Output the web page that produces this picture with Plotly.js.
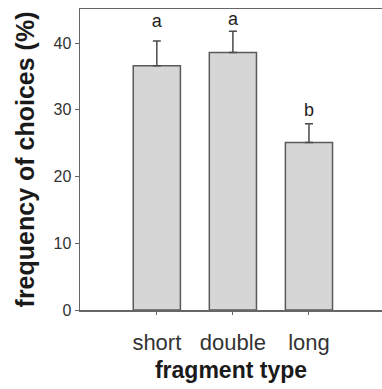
<!DOCTYPE html>
<html>
<head>
<meta charset="utf-8">
<script src="https://cdn.plot.ly/plotly-3.0.1.min.js"></script>
<style>html,body{margin:0;padding:0;background:#fff;}#chart{width:382px;height:389px;}</style>
</head>
<body>
<div id="chart"></div>
<script>
const categories = ['short', 'double', 'long'];
const frequency = [36.6, 38.6, 25.1];
const errorUpper = [3.7, 3.15, 2.8];
const groupLetters = ['a', 'a', 'b'];
const letterY = [43.1, 43.4, 29.8];
const yTicks = [0, 10, 20, 30, 40];

const xIdx = categories.map((c, i) => i);

const bars = {
  type: 'bar',
  x: xIdx,
  y: frequency,
  width: 0.62,
  marker: {color: '#d6d6d6', line: {color: '#5a5a5a', width: 1.5}},
  error_y: {type: 'data', symmetric: false, array: errorUpper, arrayminus: errorUpper.map(() => 0),
            color: '#4a4a4a', thickness: 1.5, width: 4},
  hoverinfo: 'none'
};
const letters = {
  type: 'scatter',
  mode: 'text',
  x: xIdx,
  y: letterY,
  text: groupLetters,
  textposition: 'middle center',
  textfont: {family: 'Liberation Sans, Arial, sans-serif', size: 18, color: '#222'},
  hoverinfo: 'none'
};

const layout = {
  width: 382, height: 389,
  margin: {l: 80, r: 0, t: 9, b: 79},
  showlegend: false,
  plot_bgcolor: '#fff', paper_bgcolor: '#fff',
  font: {family: 'Liberation Sans, Arial, sans-serif', color: '#333'},
  xaxis: {
    range: [-1.01, 2.96],
    tickvals: xIdx, ticktext: categories,
    ticks: 'outside', ticklen: 3, tickcolor: '#666', tickwidth: 1,
    ticklabelstandoff: 9,
    showline: true, linecolor: '#666', linewidth: 1.5, mirror: true,
    showgrid: false, zeroline: false,
    tickfont: {size: 22, color: '#333'},
    title: {text: '<b>fragment type</b>', font: {size: 23, color: '#1a1a1a'}, standoff: 8}
  },
  yaxis: {
    range: [0, 45.1],
    tickvals: yTicks,
    ticks: 'outside', ticklen: 4, tickcolor: '#666', tickwidth: 1,
    showline: true, linecolor: '#666', linewidth: 1.5, mirror: false,
    showgrid: false, zeroline: false,
    tickfont: {size: 16, color: '#333'},
    title: {text: '<b>frequency of choices (%)</b>', font: {size: 25, color: '#1a1a1a'}, standoff: 12}
  }
};

Plotly.newPlot('chart', [bars, letters], layout, {staticPlot: true, displayModeBar: false});
</script>
</body>
</html>
